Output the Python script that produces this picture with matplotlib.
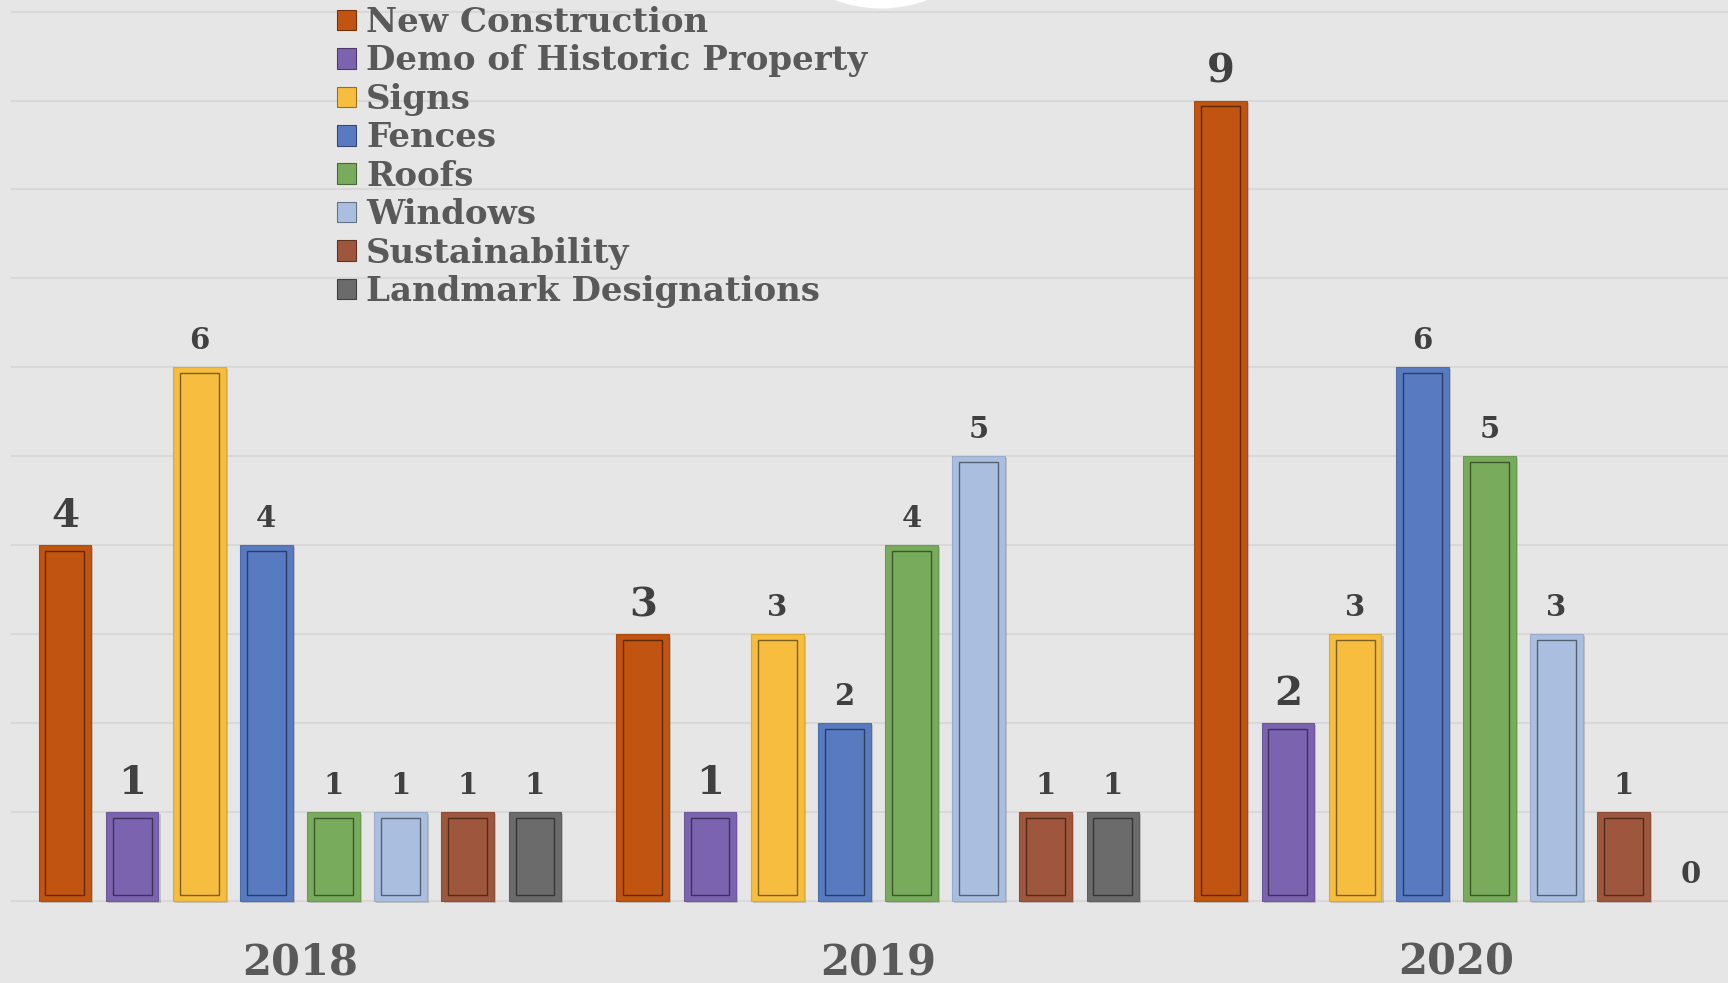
import matplotlib
matplotlib.use("Agg")
import matplotlib.pyplot as plt
import matplotlib.colors as mcolors
from matplotlib.patches import Patch, Ellipse
import matplotlib.patheffects as pe
import numpy as np

# data
years = ["2018", "2019", "2020"]
categories = ["New Construction", "Demo of Historic Property", "Signs", "Fences",
              "Roofs", "Windows", "Sustainability", "Landmark Designations"]
counts_2018 = [4, 1, 6, 4, 1, 1, 1, 1]
counts_2019 = [3, 1, 3, 2, 4, 5, 1, 1]
counts_2020 = [9, 2, 3, 6, 5, 3, 1, 0]

colors = ["#C05410", "#7B63B0", "#F6BD3F", "#587AC0",
          "#79AB5C", "#AABFDF", "#9E573C", "#6B6B6B"]
# first two series get the big value labels
label_sizes = [29, 29, 21, 21, 21, 21, 21, 21]

bg = "#E6E6E6"
plt.rcParams['font.family'] = ['DejaVu Serif']

W, H = 1728, 983
fig = plt.figure(figsize=(W / 100, H / 100), dpi=100, facecolor=bg)
ax = fig.add_axes([11 / W, 0, 1 - 11 / W, 1])
ax.set_facecolor(bg)

pitch = 0.1162
width = 0.0914
inset_x = 0.012
inset_y = 0.065

data = np.array([counts_2018, counts_2019, counts_2020])
x = np.arange(len(years))

for i, cat in enumerate(categories):
    xs = x + (i - 3.5) * pitch
    vals = data[:, i]
    face = np.array(mcolors.to_rgb(colors[i]))
    dark = face * 0.5
    bars = ax.bar(xs, vals, width=width, color=colors[i], edgecolor=face * 0.9,
                  linewidth=0.8, zorder=3, label=cat)
    for b, v in zip(bars, vals):
        if v == 0:
            b.set_visible(False)
            continue
        b.set_path_effects([pe.SimplePatchShadow(offset=(1.5, -1.5), alpha=0.25, shadow_rgbFace="#555555"),
                            pe.Normal()])
    # inner darker outline
    nz = vals > 0
    ax.bar(xs[nz], vals[nz] - 2 * inset_y, width=width - 2 * inset_x, bottom=inset_y,
           facecolor="none", edgecolor=dark, linewidth=1.0, zorder=4)
    for xv, v in zip(xs, vals):
        ax.annotate(str(v), (xv, v), xytext=(0, 13), textcoords="offset points",
                    ha="center", va="baseline", fontsize=label_sizes[i],
                    fontweight="bold", color="#404040", zorder=5)

for xi, yr in zip(x, years):
    ax.text(xi, -0.83, yr, ha="center", va="baseline", fontsize=30,
            fontweight="bold", color="#595959")

ax.set_xlim(-0.5, 2.471)
ax.set_ylim(-0.92, 10.13)
ax.set_yticks(range(0, 11))
ax.grid(axis="y", color="#D8D8D8", linewidth=1.5, zorder=0)
ax.tick_params(left=False, bottom=False, labelleft=False, labelbottom=False)
for s in ax.spines.values():
    s.set_visible(False)

# legend
handles = [Patch(facecolor=c, edgecolor=np.array(mcolors.to_rgb(c)) * 0.6, linewidth=0.8)
           for c in colors]
leg = ax.legend(handles, categories, loc="upper left",
                bbox_to_anchor=(337 / W, 1 - 6 / H), bbox_transform=fig.transFigure,
                frameon=False, borderpad=0, borderaxespad=0,
                handlelength=0.55, handleheight=0.55, handletextpad=0.3,
                labelspacing=0.16,
                prop={"family": "DejaVu Serif", "weight": "bold", "size": 24.5})
for t in leg.get_texts():
    t.set_color("#595959")

# white circle peeking in at the top
fig.patches.append(Ellipse((881 / W, 1 + 123 / H), 263 / W, 263 / H,
                           transform=fig.transFigure, facecolor="white",
                           edgecolor="none", zorder=10))

fig.savefig("out.png", dpi=100, facecolor=bg)
